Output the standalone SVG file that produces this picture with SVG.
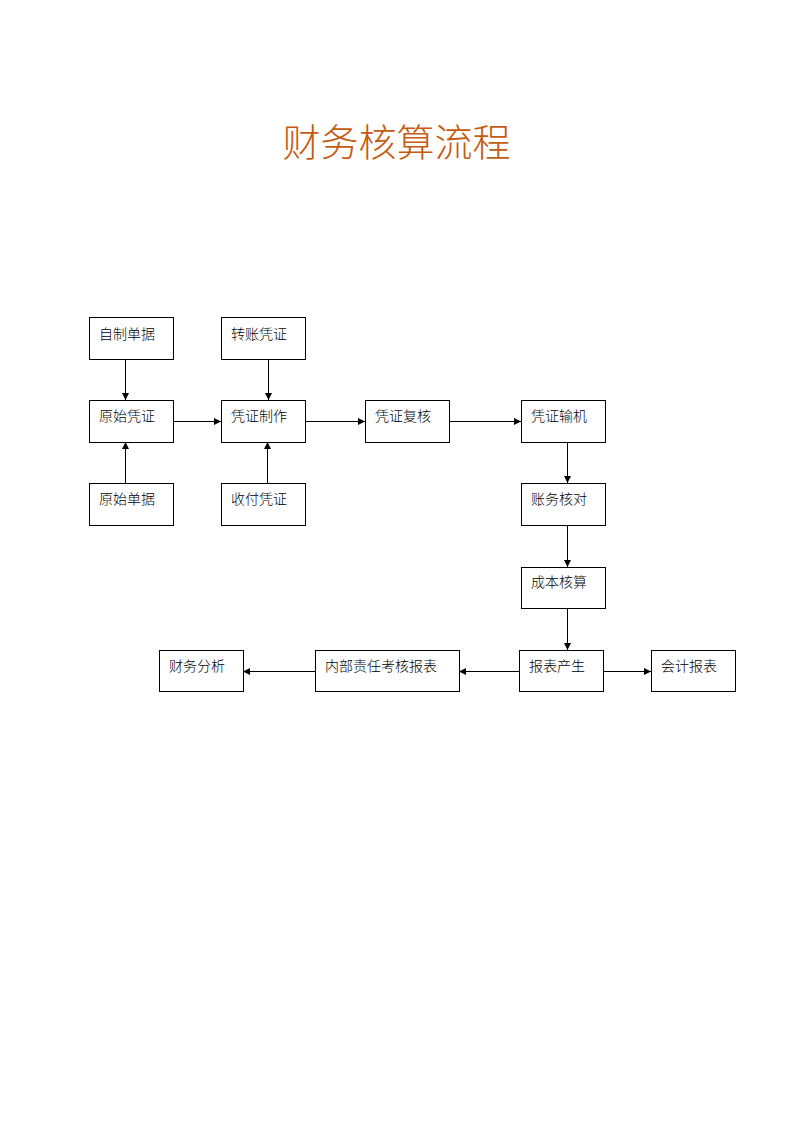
<svg xmlns="http://www.w3.org/2000/svg" width="794" height="1123" viewBox="0 0 794 1123">
<style>
.box{fill:#fff;stroke:#000;stroke-width:1}
.t{font-family:"Noto Sans CJK SC",sans-serif;font-weight:300;font-size:14px;fill:#000}
.c{stroke:#000;stroke-width:1;fill:none;marker-end:url(#ah)}
.title{font-family:"Noto Sans CJK SC",sans-serif;font-weight:300;font-size:38px;fill:#C55A11}
</style>
<defs>
<marker id="ah" markerWidth="8" markerHeight="8" refX="7" refY="3.5" orient="auto" markerUnits="userSpaceOnUse">
<path d="M0,0 L7,3.5 L0,7 Z" fill="#000"/>
</marker>
</defs>
<rect width="794" height="1123" fill="#fff"/>
<text class="title" x="396.5" y="156" text-anchor="middle">财务核算流程</text>
<g id="connectors">
<line class="c" x1="125.5" y1="359" x2="125.5" y2="400"/>
<line class="c" x1="125.5" y1="483" x2="125.5" y2="442"/>
<line class="c" x1="173" y1="421.5" x2="221" y2="421.5"/>
<line class="c" x1="268.5" y1="359" x2="268.5" y2="400"/>
<line class="c" x1="267.5" y1="483" x2="267.5" y2="442"/>
<line class="c" x1="305" y1="421.5" x2="365" y2="421.5"/>
<line class="c" x1="449" y1="421.5" x2="521" y2="421.5"/>
<line class="c" x1="567.5" y1="442" x2="567.5" y2="483"/>
<line class="c" x1="567.5" y1="525" x2="567.5" y2="567"/>
<line class="c" x1="567.5" y1="608" x2="567.5" y2="650"/>
<line class="c" x1="519" y1="671.5" x2="459" y2="671.5"/>
<line class="c" x1="315" y1="671.5" x2="243" y2="671.5"/>
<line class="c" x1="603" y1="671.5" x2="651" y2="671.5"/>
</g>
<g id="n1"><rect class="box" x="89.5" y="317.5" width="84" height="42"/><text class="t" x="99" y="339">自制单据</text></g>
<g id="n2"><rect class="box" x="221.5" y="317.5" width="84" height="42"/><text class="t" x="231" y="339">转账凭证</text></g>
<g id="n3"><rect class="box" x="89.5" y="400.5" width="84" height="42"/><text class="t" x="99" y="421">原始凭证</text></g>
<g id="n4"><rect class="box" x="221.5" y="400.5" width="84" height="42"/><text class="t" x="231" y="421">凭证制作</text></g>
<g id="n5"><rect class="box" x="365.5" y="400.5" width="84" height="42"/><text class="t" x="375" y="421">凭证复核</text></g>
<g id="n6"><rect class="box" x="521.5" y="400.5" width="84" height="42"/><text class="t" x="531" y="421">凭证输机</text></g>
<g id="n7"><rect class="box" x="89.5" y="483.5" width="84" height="42"/><text class="t" x="99" y="504">原始单据</text></g>
<g id="n8"><rect class="box" x="221.5" y="483.5" width="84" height="42"/><text class="t" x="231" y="504">收付凭证</text></g>
<g id="n9"><rect class="box" x="521.5" y="483.5" width="84" height="42"/><text class="t" x="531" y="504">账务核对</text></g>
<g id="n10"><rect class="box" x="521.5" y="567.5" width="84" height="41"/><text class="t" x="531" y="587">成本核算</text></g>
<g id="n11"><rect class="box" x="519.5" y="650.5" width="84" height="41"/><text class="t" x="529" y="671">报表产生</text></g>
<g id="n12"><rect class="box" x="651.5" y="650.5" width="84" height="41"/><text class="t" x="661" y="671">会计报表</text></g>
<g id="n13"><rect class="box" x="315.5" y="650.5" width="144" height="41"/><text class="t" x="325" y="671">内部责任考核报表</text></g>
<g id="n14"><rect class="box" x="159.5" y="650.5" width="84" height="41"/><text class="t" x="169" y="671">财务分析</text></g>
</svg>
